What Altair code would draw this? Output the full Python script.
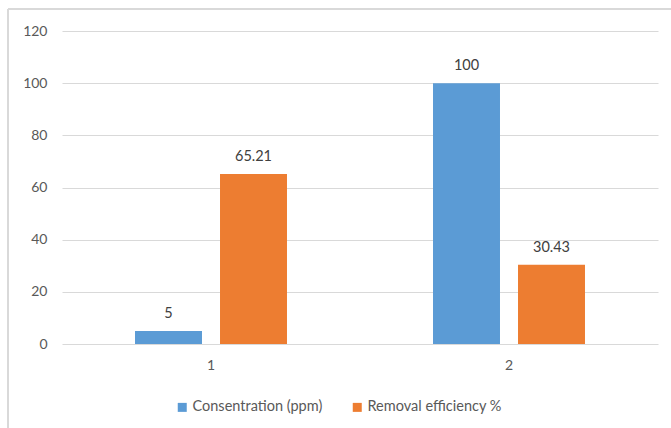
import altair as alt
import pandas as pd

# Series values per sample group
groups = ["1", "2"]
series_names = ["Consentration (ppm)", "Removal efficiency %"]
concentration = [5, 100]
removal_efficiency = [65.21, 30.43]
y_ticks = [0, 20, 40, 60, 80, 100, 120]
series_colors = ["#5B9BD5", "#ED7D31"]

rows = []
for g, c, r in zip(groups, concentration, removal_efficiency):
    rows.append({"group": g, "series": series_names[0], "value": c, "label": f"{c:g}"})
    rows.append({"group": g, "series": series_names[1], "value": r, "label": f"{r:g}"})
df = pd.DataFrame(rows)

FONT = "Lato"

x_enc = alt.X(
    "group:N",
    sort=groups,
    title=None,
    scale=alt.Scale(paddingInner=0.49, paddingOuter=0.245),
    axis=alt.Axis(labelAngle=0, labelPadding=14, ticks=False, domain=False, grid=False,
                  labelFontSize=14, labelColor="#595959", labelFont=FONT),
)
x_off = alt.XOffset("series:N", sort=series_names,
                    scale=alt.Scale(paddingInner=0.212, paddingOuter=0))
y_enc = alt.Y(
    "value:Q",
    title=None,
    scale=alt.Scale(domain=[0, 120], nice=False),
    axis=alt.Axis(values=y_ticks, ticks=False, domain=False, labelPadding=15,
                  labelFontSize=14, labelColor="#595959", labelFont=FONT,
                  gridColor="#D9D9D9", gridWidth=1),
)

bars = alt.Chart(df).mark_bar().encode(
    x=x_enc,
    xOffset=x_off,
    y=y_enc,
    color=alt.Color(
        "series:N",
        sort=series_names,
        scale=alt.Scale(domain=series_names, range=series_colors),
        legend=alt.Legend(
            title=None, orient="none", direction="horizontal",
            legendX=113, legendY=369,
            symbolType="square", symbolSize=81, symbolStrokeWidth=0,
            labelFont=FONT, labelFontSize=14.5, labelColor="#595959",
            labelOffset=3, columnPadding=27,
        ),
    ),
)

labels = alt.Chart(df).mark_text(
    baseline="bottom", dy=-10, font=FONT, fontSize=14.5, color="#404040"
).encode(
    x=alt.X("group:N", sort=groups),
    xOffset=alt.XOffset("series:N", sort=series_names),
    y=alt.Y("value:Q"),
    text="label:N",
)

# Light grey chart frame: left and top edges
frame_left = alt.Chart(df).mark_rule(color="#D9D9D9", strokeWidth=2).encode(
    x=alt.value(-54), y=alt.value(-22), y2=alt.value(500)
)
frame_top = alt.Chart(df).mark_rule(color="#D9D9D9", strokeWidth=2).encode(
    x=alt.value(-54), x2=alt.value(700), y=alt.value(-22)
)

chart = (
    alt.layer(frame_left, frame_top, bars, labels)
    .properties(
        width=596,
        height=313,
        background="white",
        autosize=alt.AutoSizeParams(type="none"),
        padding={"left": 62, "top": 31, "right": 13, "bottom": 84},
    )
    .configure_view(stroke=None)
)

chart.save("out.html", embed_options={"renderer": "svg", "actions": False})
